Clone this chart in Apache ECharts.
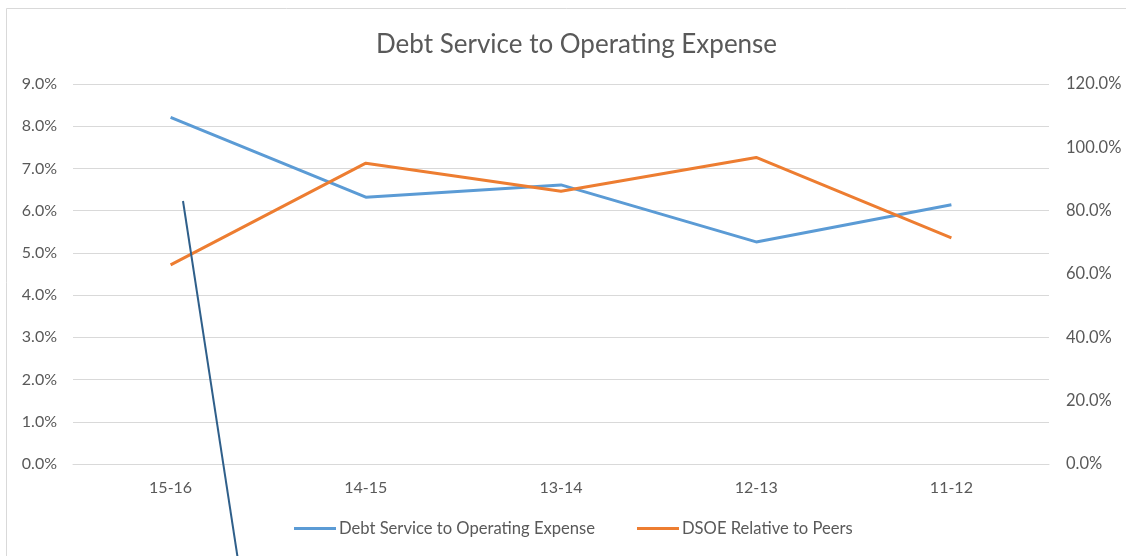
<!DOCTYPE html>
<html>
<head>
<meta charset="utf-8">
<script src="https://cdn.jsdelivr.net/npm/echarts@6/dist/echarts.min.js"></script>
<style>
  html, body { margin: 0; padding: 0; background: #fff; }
  #chart { width: 1126px; height: 556px; }
</style>
</head>
<body>
<div id="chart"></div>
<script>
// Fiscal years, most recent first
const years = ['15-16', '14-15', '13-14', '12-13', '11-12'];
// Debt service as a share of operating expense (%)
const debtServiceRatio = [8.21, 6.32, 6.61, 5.26, 6.14];
// DSOE relative to peer group (%)
const dsoeVsPeers = [62.9, 95.0, 86.1, 96.8, 71.4];
// Axis tick settings
const leftTicks = { min: 0, max: 9, step: 1 };
const rightTicks = { min: 0, max: 120, step: 20 };

const textColor = '#595959';
const font = 'Lato, "Open Sans", sans-serif';

const chart = echarts.init(document.getElementById('chart'), null, { renderer: 'canvas' });
chart.setOption({
  animation: false,
  backgroundColor: '#ffffff',
  title: {
    text: 'Debt Service to Operating Expense',
    left: 371,
    top: 27,
    textStyle: { color: textColor, fontSize: 26, fontWeight: 'normal', fontFamily: font }
  },
  legend: {
    bottom: 14,
    left: 289,
    itemWidth: 42,
    itemHeight: 3,
    itemGap: 42,
    icon: 'rect',
    textStyle: { color: textColor, fontSize: 16.6, fontFamily: font, padding: [0, 0, 0, -2] },
    data: ['Debt Service to Operating Expense', 'DSOE Relative to Peers']
  },
  grid: { left: 73, right: 77, top: 84, bottom: 92 },
  xAxis: {
    type: 'category',
    data: years,
    boundaryGap: true,
    axisLine: { show: true, lineStyle: { color: '#d9d9d9' } },
    axisTick: { show: false },
    axisLabel: { color: textColor, fontSize: 16, fontFamily: font, margin: 16 }
  },
  yAxis: [
    {
      type: 'value',
      min: leftTicks.min, max: leftTicks.max, interval: leftTicks.step,
      axisLine: { show: false },
      axisTick: { show: false },
      splitLine: { lineStyle: { color: '#d9d9d9', width: 1 } },
      axisLabel: { color: textColor, fontSize: 16, fontFamily: font, margin: 16,
                   formatter: v => v.toFixed(1) + '%' }
    },
    {
      type: 'value',
      min: rightTicks.min, max: rightTicks.max, interval: rightTicks.step,
      axisLine: { show: false },
      axisTick: { show: false },
      splitLine: { show: false },
      axisLabel: { color: textColor, fontSize: 16.5, fontFamily: font, margin: 17,
                   formatter: v => v.toFixed(1) + '%' }
    }
  ],
  series: [
    {
      name: 'Debt Service to Operating Expense',
      type: 'line',
      yAxisIndex: 0,
      data: debtServiceRatio,
      symbol: 'none',
      itemStyle: { color: '#5b9bd5' },
      lineStyle: { color: '#5b9bd5', width: 3 }
    },
    {
      name: 'DSOE Relative to Peers',
      type: 'line',
      yAxisIndex: 1,
      data: dsoeVsPeers,
      symbol: 'none',
      itemStyle: { color: '#ed7d31' },
      lineStyle: { color: '#ed7d31', width: 3 }
    }
  ],
  graphic: [
    // chart frame
    {
      type: 'rect',
      shape: { x: 6.5, y: 8.5, width: 1130, height: 560 },
      style: { fill: 'none', stroke: '#d9d9d9', lineWidth: 1 },
      silent: true
    },
    // hand-drawn pointer line
    {
      type: 'line',
      shape: { x1: 183, y1: 201, x2: 238, y2: 560 },
      style: { stroke: '#2f5f8a', lineWidth: 2 },
      z: 100,
      silent: true
    }
  ]
});
</script>
</body>
</html>
